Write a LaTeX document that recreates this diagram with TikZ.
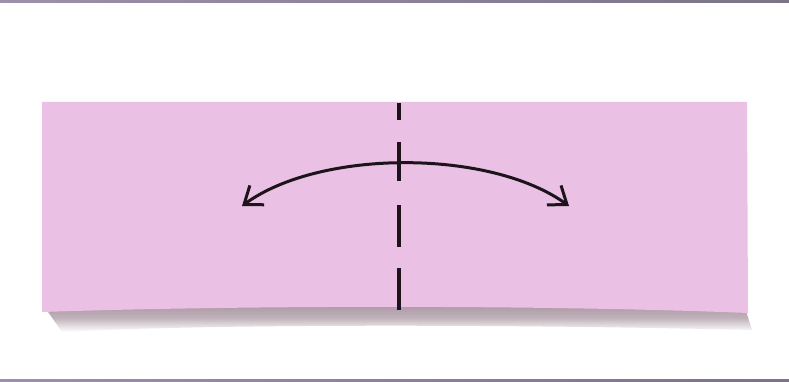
\documentclass[tikz,border=0pt]{standalone}
\usetikzlibrary{arrows.meta}
\definecolor{paper}{RGB}{234,192,229}
\definecolor{band}{RGB}{170,150,162}
\definecolor{frameL}{RGB}{156,144,170}
\definecolor{frameR}{RGB}{122,116,134}
\definecolor{ink}{RGB}{28,20,26}
\tikzset{
  frameline/.style={left color=frameL, right color=frameR, draw=none},
  foldline/.style={ink, line width=3.4pt, dash pattern=on 17pt off 22pt on 39pt off 24pt on 42pt off 21pt on 42pt},
  flipArrow/.style={ink, line width=3pt, {Straight Barb[length=16pt,width=24pt]}-{Straight Barb[length=16pt,width=24pt]}}
}
\begin{document}
\begin{tikzpicture}[x=1pt,y=-1pt]
\useasboundingbox (0,0) rectangle (789,382);
\fill[white] (0,0) rectangle (789,382);
% frame lines
\shade[frameline] (0,0) rectangle (789,2.5);
\shade[frameline] (0,379.5) rectangle (789,382);
% paper edge / shadow band
\shade[top color=band, bottom color=white, middle color=band!75!white]
  (46,309) .. controls (200,304) and (500,303) .. (746,311)
  -- (752,330) .. controls (500,324) and (200,324) .. (62,332) -- cycle;
% paper
\fill[paper] (42,102) -- (747,102) -- (748,313)
  .. controls (550,305) and (250,305) .. (42,312) -- cycle;
% fold line
\coordinate (ftop) at (399,103);
\coordinate (fbot) at (399,310);
\draw[foldline] (ftop) -- (fbot);
% arrow
\coordinate (al) at (242,206);
\coordinate (ar) at (569,206);
\draw[flipArrow] (al) .. controls (320,149) and (490,149) .. (ar);
\end{tikzpicture}
\end{document}
